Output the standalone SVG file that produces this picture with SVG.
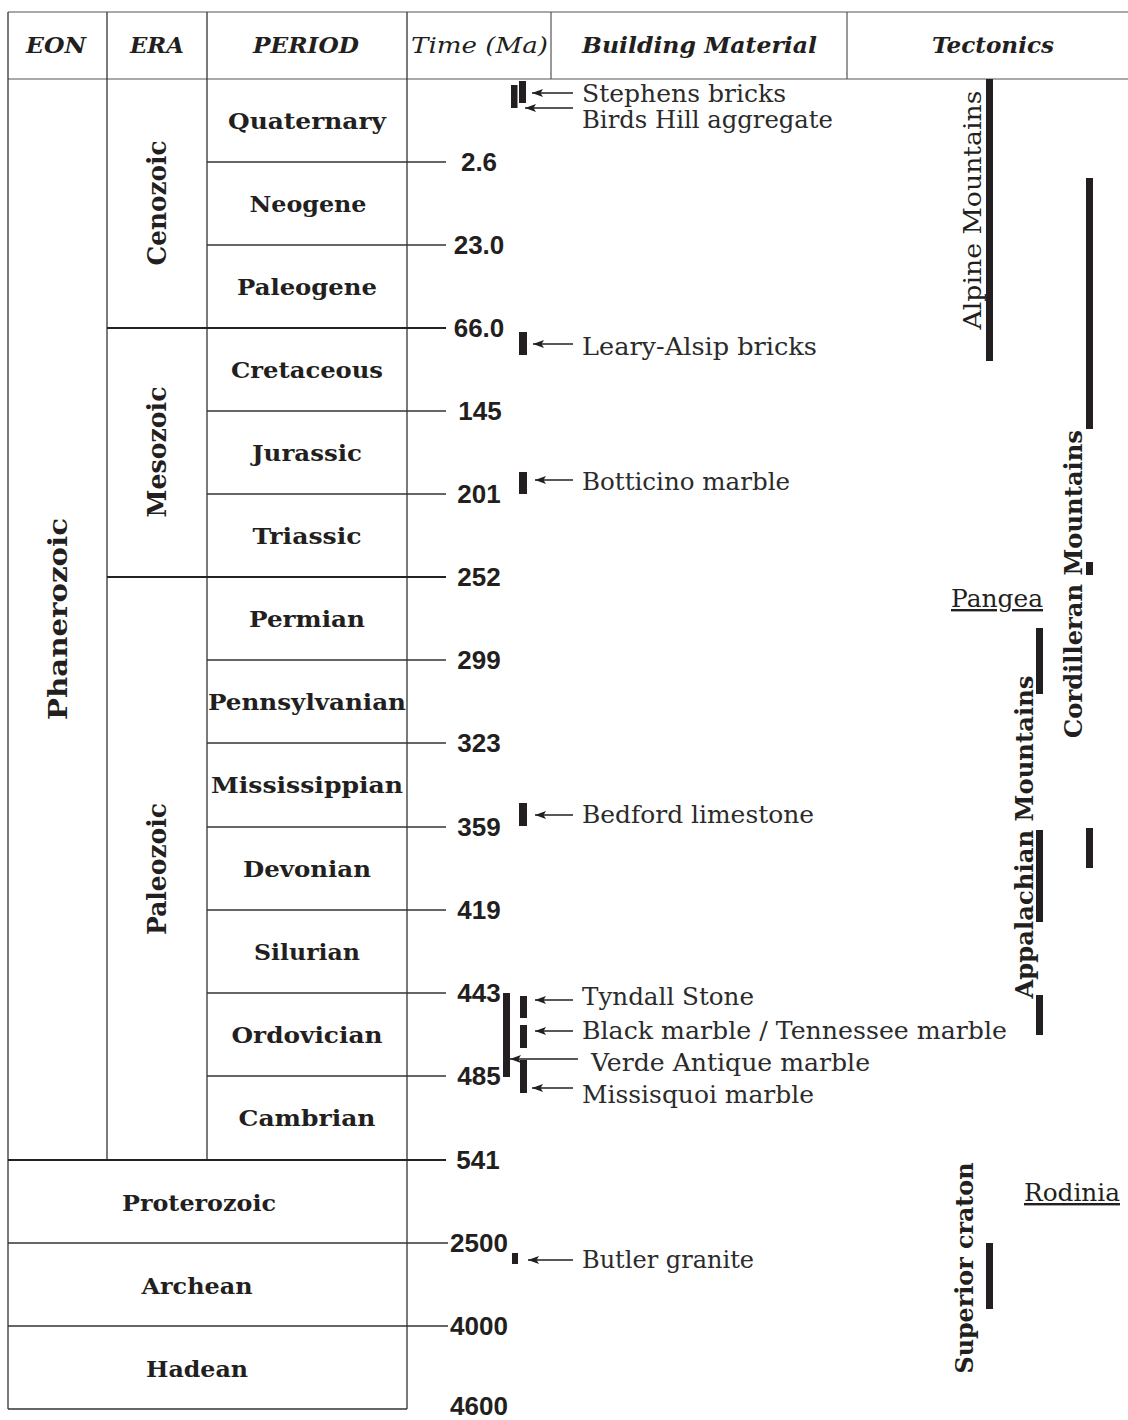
<svg xmlns="http://www.w3.org/2000/svg" width="1128" height="1420" viewBox="0 0 1128 1420">
<style>
.ln{stroke:#333;stroke-width:1.3;fill:none}
.lh{stroke:#555;stroke-width:1.2;fill:none}
.lb{stroke:#222;stroke-width:2.2;fill:none}
.hd{font-family:"DejaVu Serif",serif;font-style:italic;font-weight:bold;font-size:23px;fill:#231f20;text-anchor:middle}
.per{font-family:"DejaVu Serif",serif;font-weight:bold;font-size:22px;fill:#231f20;text-anchor:middle}
.era{font-family:"DejaVu Serif",serif;font-weight:bold;font-size:26px;fill:#231f20;text-anchor:middle}
.tm{font-family:"Liberation Sans",Arial,sans-serif;font-weight:bold;font-size:26px;fill:#231f20;text-anchor:middle}
.mat{font-family:"DejaVu Serif",serif;font-size:24px;fill:#2b2b2b}
.tec{font-family:"DejaVu Serif",serif;font-size:24px;fill:#231f20;text-anchor:middle}
.tecb{font-family:"DejaVu Serif",serif;font-weight:bold;font-size:24px;fill:#231f20;text-anchor:middle}
.bar{fill:#231f20}
.arr{stroke:#231f20;stroke-width:1.5;fill:none;marker-end:url(#ah)}
</style>
<defs>
<marker id="ah" viewBox="0 0 11 8" refX="11" refY="4" markerWidth="11" markerHeight="8" markerUnits="userSpaceOnUse" orient="auto">
<path d="M0,0 L11,4 L0,8 L2.5,4 Z" fill="#231f20"/>
</marker>
</defs>
<rect width="1128" height="1420" fill="#fff"/>

<g id="header">
<line class="lh" x1="8" y1="12" x2="1128" y2="12"/>
<line class="lh" x1="8" y1="79" x2="1128" y2="79"/>
<line class="lh" x1="551" y1="12" x2="551" y2="79"/>
<line class="lh" x1="847" y1="12" x2="847" y2="79"/>
<text class="hd" x="56" y="53" textLength="60" lengthAdjust="spacingAndGlyphs">EON</text>
<text class="hd" x="157" y="53" textLength="54" lengthAdjust="spacingAndGlyphs">ERA</text>
<text class="hd" x="306" y="53" textLength="106" lengthAdjust="spacingAndGlyphs">PERIOD</text>
<text class="hd" x="479.5" y="53" style="font-weight:normal" textLength="137" lengthAdjust="spacingAndGlyphs">Time (Ma)</text>
<text class="hd" x="699.5" y="53" textLength="235" lengthAdjust="spacingAndGlyphs">Building Material</text>
<text class="hd" x="993" y="53" textLength="122" lengthAdjust="spacingAndGlyphs">Tectonics</text>
</g>

<g id="table-frame">
<line class="ln" x1="8" y1="12" x2="8" y2="1409"/>
<line class="ln" x1="107" y1="12" x2="107" y2="1160"/>
<line class="ln" x1="207" y1="12" x2="207" y2="1160"/>
<line class="ln" x1="407" y1="12" x2="407" y2="1409"/>
<line class="ln" x1="8" y1="1409" x2="407" y2="1409"/>
</g>

<g id="boundaries">
<line class="ln" x1="207" y1="162" x2="446" y2="162"/>
<line class="ln" x1="207" y1="245" x2="446" y2="245"/>
<line class="lb" x1="107" y1="328" x2="446" y2="328"/>
<line class="ln" x1="207" y1="411" x2="446" y2="411"/>
<line class="ln" x1="207" y1="494" x2="446" y2="494"/>
<line class="lb" x1="107" y1="577" x2="446" y2="577"/>
<line class="ln" x1="207" y1="660" x2="446" y2="660"/>
<line class="ln" x1="207" y1="743" x2="446" y2="743"/>
<line class="ln" x1="207" y1="827" x2="446" y2="827"/>
<line class="ln" x1="207" y1="910" x2="446" y2="910"/>
<line class="ln" x1="207" y1="993" x2="446" y2="993"/>
<line class="ln" x1="207" y1="1076" x2="446" y2="1076"/>
<line class="lb" x1="8" y1="1160" x2="446" y2="1160"/>
<line class="ln" x1="8" y1="1243" x2="448" y2="1243"/>
<line class="ln" x1="8" y1="1326" x2="448" y2="1326"/>
</g>

<g id="eon-phanerozoic"><text class="era" x="67" y="619" transform="rotate(-90 67 619)" textLength="202" lengthAdjust="spacingAndGlyphs">Phanerozoic</text></g>
<g id="eon-proterozoic"><text class="per" x="199" y="1211" textLength="154" lengthAdjust="spacingAndGlyphs">Proterozoic</text></g>
<g id="eon-archean"><text class="per" x="197" y="1294" textLength="111" lengthAdjust="spacingAndGlyphs">Archean</text></g>
<g id="eon-hadean"><text class="per" x="197" y="1377" textLength="102" lengthAdjust="spacingAndGlyphs">Hadean</text></g>

<g id="era-cenozoic"><text class="era" x="166" y="203" transform="rotate(-90 166 203)" textLength="125" lengthAdjust="spacingAndGlyphs">Cenozoic</text></g>
<g id="era-mesozoic"><text class="era" x="166" y="452" transform="rotate(-90 166 452)" textLength="131" lengthAdjust="spacingAndGlyphs">Mesozoic</text></g>
<g id="era-paleozoic"><text class="era" x="166" y="869" transform="rotate(-90 166 869)" textLength="132" lengthAdjust="spacingAndGlyphs">Paleozoic</text></g>

<g id="periods">
<g id="period-quaternary"><text class="per" x="307" y="129" textLength="158" lengthAdjust="spacingAndGlyphs">Quaternary</text></g>
<g id="period-neogene"><text class="per" x="308" y="212" textLength="117" lengthAdjust="spacingAndGlyphs">Neogene</text></g>
<g id="period-paleogene"><text class="per" x="307" y="295" textLength="140" lengthAdjust="spacingAndGlyphs">Paleogene</text></g>
<g id="period-cretaceous"><text class="per" x="307" y="378" textLength="152" lengthAdjust="spacingAndGlyphs">Cretaceous</text></g>
<g id="period-jurassic"><text class="per" x="307" y="461" textLength="110" lengthAdjust="spacingAndGlyphs">Jurassic</text></g>
<g id="period-triassic"><text class="per" x="307" y="544" textLength="109" lengthAdjust="spacingAndGlyphs">Triassic</text></g>
<g id="period-permian"><text class="per" x="307" y="627" textLength="116" lengthAdjust="spacingAndGlyphs">Permian</text></g>
<g id="period-pennsylvanian"><text class="per" x="307" y="710" textLength="198" lengthAdjust="spacingAndGlyphs">Pennsylvanian</text></g>
<g id="period-mississippian"><text class="per" x="307" y="793" textLength="192" lengthAdjust="spacingAndGlyphs">Mississippian</text></g>
<g id="period-devonian"><text class="per" x="307" y="877" textLength="128" lengthAdjust="spacingAndGlyphs">Devonian</text></g>
<g id="period-silurian"><text class="per" x="307" y="960" textLength="106" lengthAdjust="spacingAndGlyphs">Silurian</text></g>
<g id="period-ordovician"><text class="per" x="307" y="1043" textLength="151" lengthAdjust="spacingAndGlyphs">Ordovician</text></g>
<g id="period-cambrian"><text class="per" x="307" y="1126" textLength="137" lengthAdjust="spacingAndGlyphs">Cambrian</text></g>
</g>

<g id="time-labels">
<text class="tm" x="479" y="171">2.6</text>
<text class="tm" x="479" y="254">23.0</text>
<text class="tm" x="479" y="337">66.0</text>
<text class="tm" x="480" y="420">145</text>
<text class="tm" x="479" y="503">201</text>
<text class="tm" x="479" y="586">252</text>
<text class="tm" x="479" y="669">299</text>
<text class="tm" x="479" y="752">323</text>
<text class="tm" x="479" y="836">359</text>
<text class="tm" x="479" y="919">419</text>
<text class="tm" x="479" y="1002">443</text>
<text class="tm" x="479" y="1085">485</text>
<text class="tm" x="478" y="1169">541</text>
<text class="tm" x="479" y="1252">2500</text>
<text class="tm" x="479" y="1335">4000</text>
<text class="tm" x="479" y="1415">4600</text>
</g>

<g id="material-bars">
<rect class="bar" x="511" y="85" width="6.5" height="23"/>
<rect class="bar" x="519" y="81" width="7" height="22"/>
<rect class="bar" x="519" y="332" width="8" height="23"/>
<rect class="bar" x="519" y="472" width="8" height="22"/>
<rect class="bar" x="519" y="803" width="8" height="23"/>
<rect class="bar" x="503" y="993" width="7" height="84"/>
<rect class="bar" x="520" y="996" width="7" height="22"/>
<rect class="bar" x="520" y="1025" width="7" height="23"/>
<rect class="bar" x="520" y="1060" width="7" height="33"/>
<rect class="bar" x="512" y="1253" width="6" height="11"/>
</g>

<g id="materials">
<g id="mat-stephens"><text class="mat" x="582" y="102" textLength="204" lengthAdjust="spacingAndGlyphs">Stephens bricks</text></g>
<g id="mat-birds"><text class="mat" x="582" y="128" textLength="251" lengthAdjust="spacingAndGlyphs">Birds Hill aggregate</text></g>
<g id="mat-leary"><text class="mat" x="582" y="355" textLength="235" lengthAdjust="spacingAndGlyphs">Leary-Alsip bricks</text></g>
<g id="mat-botticino"><text class="mat" x="582" y="490" textLength="208" lengthAdjust="spacingAndGlyphs">Botticino marble</text></g>
<g id="mat-bedford"><text class="mat" x="582" y="823" textLength="232" lengthAdjust="spacingAndGlyphs">Bedford limestone</text></g>
<g id="mat-tyndall"><text class="mat" x="582" y="1005" textLength="172" lengthAdjust="spacingAndGlyphs">Tyndall Stone</text></g>
<g id="mat-black"><text class="mat" x="582" y="1039" textLength="425" lengthAdjust="spacingAndGlyphs">Black marble / Tennessee marble</text></g>
<g id="mat-verde"><text class="mat" x="591" y="1071" textLength="279" lengthAdjust="spacingAndGlyphs">Verde Antique marble</text></g>
<g id="mat-missisquoi"><text class="mat" x="582" y="1103" textLength="232" lengthAdjust="spacingAndGlyphs">Missisquoi marble</text></g>
<g id="mat-butler"><text class="mat" x="582" y="1268" textLength="172" lengthAdjust="spacingAndGlyphs">Butler granite</text></g>
</g>

<g id="connectors">
<line class="arr" x1="573" y1="93" x2="532" y2="93"/>
<line class="arr" x1="573" y1="108" x2="525" y2="108"/>
<line class="arr" x1="573" y1="344" x2="533" y2="344"/>
<line class="arr" x1="573" y1="480" x2="535" y2="480"/>
<line class="arr" x1="573" y1="815" x2="535" y2="815"/>
<line class="arr" x1="573" y1="1000" x2="535" y2="1000"/>
<line class="arr" x1="573" y1="1031" x2="535" y2="1031"/>
<line class="arr" x1="578" y1="1059" x2="510" y2="1059"/>
<line class="arr" x1="573" y1="1088" x2="532" y2="1088"/>
<line class="arr" x1="573" y1="1260" x2="528" y2="1260"/>
</g>

<g id="tectonic-bars">
<rect class="bar" x="986" y="79" width="7" height="282"/>
<rect class="bar" x="1086" y="178" width="7" height="251"/>
<rect class="bar" x="1086" y="562" width="7" height="13"/>
<rect class="bar" x="1086" y="828" width="7" height="40"/>
<rect class="bar" x="1036" y="628" width="7" height="66"/>
<rect class="bar" x="1036" y="830" width="7" height="92"/>
<rect class="bar" x="1036" y="995" width="7" height="40"/>
<rect class="bar" x="986" y="1243" width="7" height="66"/>
</g>

<g id="tectonics">
<g id="tec-alpine"><text class="tec" x="981" y="210" transform="rotate(-90 981 210)" textLength="239" lengthAdjust="spacingAndGlyphs">Alpine Mountains</text></g>
<g id="tec-cordilleran"><text class="tecb" x="1082" y="584" transform="rotate(-90 1082 584)" textLength="308" lengthAdjust="spacingAndGlyphs">Cordilleran Mountains</text></g>
<g id="tec-appalachian"><text class="tecb" x="1033" y="837" transform="rotate(-90 1033 837)" textLength="323" lengthAdjust="spacingAndGlyphs">Appalachian Mountains</text></g>
<g id="tec-superior"><text class="tecb" x="973" y="1268" transform="rotate(-90 973 1268)" textLength="211" lengthAdjust="spacingAndGlyphs">Superior craton</text></g>
<g id="tec-pangea"><text class="tec" x="997" y="607" text-decoration="underline" textLength="92" lengthAdjust="spacingAndGlyphs">Pangea</text></g>
<g id="tec-rodinia"><text class="tec" x="1072" y="1201" text-decoration="underline" textLength="96" lengthAdjust="spacingAndGlyphs">Rodinia</text></g>
</g>
</svg>
